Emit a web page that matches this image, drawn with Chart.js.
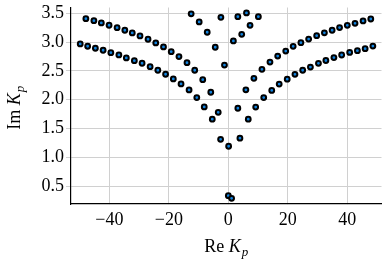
<!DOCTYPE html>
<html>
<head>
<meta charset="utf-8">
<script src="https://cdn.jsdelivr.net/npm/chart.js@4"></script>
<style>
  html, body { margin: 0; padding: 0; background: #fff; }
  canvas { display: block; }
</style>
</head>
<body>
<canvas id="locusChart" width="382" height="265"></canvas>
<script>
// upper left branch
const leftUpperRe = [-47.9, -45.2, -42.7, -40.1, -37.4, -34.8, -32.3, -29.7, -27.0, -24.4, -21.8, -19.2, -16.6, -13.9, -11.3, -8.6, -5.9, -3.4];
const leftUpperIm = [3.406, 3.372, 3.332, 3.292, 3.250, 3.205, 3.158, 3.106, 3.049, 2.984, 2.915, 2.833, 2.747, 2.642, 2.510, 2.347, 2.128, 1.78];
// lower left branch
const leftLowerRe = [-49.8, -47.3, -44.7, -42.1, -39.5, -36.8, -34.3, -31.6, -29.0, -26.3, -23.7, -21.1, -18.5, -15.9, -13.2, -10.6, -8.1, -5.4, -2.6];
const leftLowerIm = [2.967, 2.927, 2.892, 2.858, 2.816, 2.776, 2.724, 2.677, 2.632, 2.573, 2.510, 2.441, 2.359, 2.273, 2.168, 2.035, 1.873, 1.66, 1.31];
// upper right branch
const rightUpperRe = [3.2, 5.9, 8.6, 11.3, 14.0, 16.6, 19.3, 21.8, 24.4, 27.0, 29.7, 32.3, 34.9, 37.4, 40.0, 42.6, 45.3, 47.9];
const rightUpperIm = [1.85, 2.17, 2.37, 2.526, 2.653, 2.757, 2.844, 2.926, 2.990, 3.052, 3.110, 3.160, 3.205, 3.252, 3.290, 3.325, 3.366, 3.400];
// lower right branch
const rightLowerRe = [3.9, 6.7, 9.2, 11.9, 14.6, 17.1, 19.8, 22.4, 25.0, 27.6, 30.3, 32.8, 35.5, 38.1, 40.8, 43.4, 46.0, 48.6];
const rightLowerIm = [1.33, 1.66, 1.87, 2.035, 2.16, 2.27, 2.356, 2.44, 2.51, 2.565, 2.63, 2.68, 2.73, 2.775, 2.82, 2.85, 2.885, 2.93];
// points near the top centre
const topLeftRe = [-12.5, -9.8, -7.1, -4.4, -1.3];
const topLeftIm = [3.49, 3.35, 3.17, 2.91, 2.60];
const topRightRe = [-2.5, 1.7, 4.5, 7.3, 10.1, 3.2, 6.1];
const topRightIm = [3.43, 3.02, 3.135, 3.29, 3.44, 3.44, 3.505];
// points near the real axis
const centreRe = [0.1, 0.0, 1.1];
const centreIm = [1.19, 0.332, 0.286];

const xTicks = [-40, -20, 0, 20, 40];
const yTicks = [0.5, 1.0, 1.5, 2.0, 2.5, 3.0, 3.5];

const serif = "'Liberation Serif', 'DejaVu Serif', serif";

function toPoints(re, im) {
    return re.map((x, i) => ({ x: x, y: im[i] }));
}

function branch(re, im) {
    return {
        data: toPoints(re, im),
        pointRadius: 2.4,
        pointBorderWidth: 2,
        pointBackgroundColor: '#1283de',
        pointBorderColor: '#000000',
        showLine: false
    };
}

// axis titles with italic K and subscript p
const axisTitles = {
    id: 'axisTitles',
    afterDraw(chart) {
        const ctx = chart.ctx;
        const area = chart.chartArea;
        const drawLabel = (prefix, cx, cy, rotate) => {
            const big = '18px ' + serif;
            const bigIt = 'italic 18px ' + serif;
            const small = 'italic 13px ' + serif;
            ctx.save();
            ctx.fillStyle = '#000';
            ctx.textBaseline = 'alphabetic';
            ctx.font = big;
            const w1 = ctx.measureText(prefix + ' ').width;
            ctx.font = bigIt;
            const w2 = ctx.measureText('K').width;
            ctx.font = small;
            const w3 = ctx.measureText('p').width;
            const total = w1 + w2 + 1 + w3;
            ctx.translate(cx, cy);
            if (rotate) ctx.rotate(-Math.PI / 2);
            let x = -total / 2;
            ctx.font = big;
            ctx.fillText(prefix + ' ', x, 0);
            x += w1;
            ctx.font = bigIt;
            ctx.fillText('K', x, 0);
            x += w2 + 1;
            ctx.font = small;
            ctx.fillText('p', x, 3.5);
            ctx.restore();
        };
        drawLabel('Re', (area.left + area.right) / 2, 252, false);
        drawLabel('Im', 20, (area.top + area.bottom) / 2 + 2, true);
    }
};

new Chart(document.getElementById('locusChart').getContext('2d'), {
    type: 'scatter',
    data: {
        datasets: [
            branch(leftUpperRe, leftUpperIm),
            branch(leftLowerRe, leftLowerIm),
            branch(rightUpperRe, rightUpperIm),
            branch(rightLowerRe, rightLowerIm),
            branch(topLeftRe, topLeftIm),
            branch(topRightRe, topRightIm),
            branch(centreRe, centreIm)
        ]
    },
    options: {
        responsive: false,
        animation: false,
        devicePixelRatio: 1,
        layout: {
            autoPadding: false,
            padding: { top: 7.5, right: 0.5, bottom: 0, left: 0 }
        },
        plugins: {
            legend: { display: false },
            tooltip: { enabled: false }
        },
        scales: {
            x: {
                type: 'linear',
                min: -52.9,
                max: 51.5,
                afterBuildTicks: (scale) => {
                    scale.ticks = xTicks.map(v => ({ value: v }));
                },
                afterFit: (scale) => {
                    scale.height = 61;
                    scale.paddingLeft = 0;
                    scale.paddingRight = 0;
                },
                grid: {
                    color: '#d0d0d0',
                    lineWidth: 1,
                    tickLength: 0
                },
                border: { display: true, color: '#000', width: 1.2 },
                ticks: {
                    color: '#000',
                    padding: 5,
                    maxRotation: 0,
                    font: { family: serif, size: 18 },
                    callback: (v) => (v < 0 ? '\u2212' + Math.abs(v) : String(v))
                }
            },
            y: {
                type: 'linear',
                min: 0.1875,
                max: 3.6,
                afterBuildTicks: (scale) => {
                    scale.ticks = yTicks.map(v => ({ value: v }));
                },
                afterFit: (scale) => {
                    scale.width = 71;
                    scale.paddingTop = 0;
                    scale.paddingBottom = 0;
                },
                grid: {
                    color: '#d0d0d0',
                    lineWidth: 1,
                    tickLength: 5
                },
                border: { display: true, color: '#000', width: 1.2 },
                ticks: {
                    color: '#000',
                    padding: 2,
                    font: { family: serif, size: 18 },
                    callback: (v) => v.toFixed(1)
                }
            }
        }
    },
    plugins: [axisTitles]
});
</script>
</body>
</html>
